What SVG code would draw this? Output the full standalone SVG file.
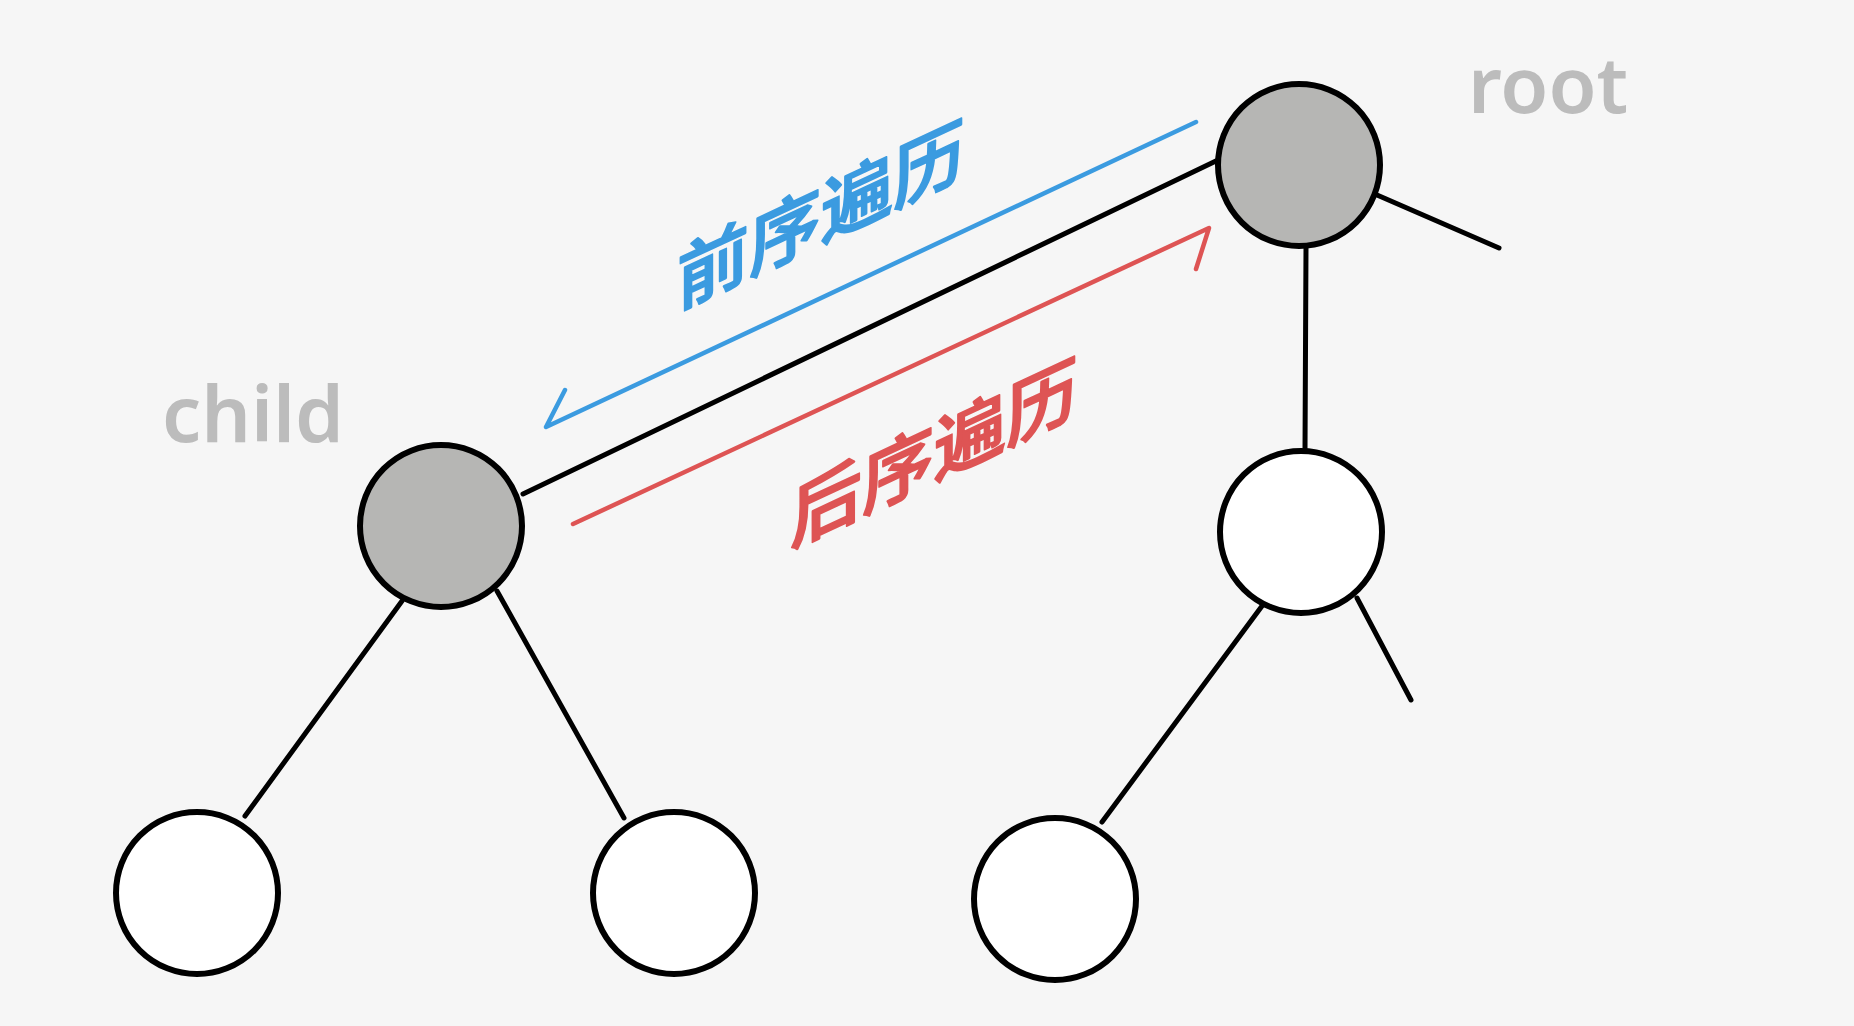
<svg xmlns="http://www.w3.org/2000/svg" width="1854" height="1026" viewBox="0 0 1854 1026">
<style>
.edge{stroke:#000;stroke-width:5;stroke-linecap:round;fill:none}
.node{stroke:#000;stroke-width:6}
.gray{fill:#b6b6b4}
.white{fill:#ffffff}
.lbl{font-family:"Noto Sans","Open Sans","DejaVu Sans",sans-serif;font-weight:600;font-size:78px;fill:#bcbcbc}
.cjk{font-family:"Noto Sans CJK SC","Noto Sans",sans-serif;font-size:72px;font-weight:500;stroke-width:2;stroke-linejoin:round}
.arr{fill:none;stroke-width:4.5;stroke-linecap:round;stroke-linejoin:round}
</style>
<rect width="1854" height="1026" fill="#f6f6f6"/>
<g id="connectors">
<line class="edge" x1="1218" y1="160" x2="523" y2="494"/>
<line class="edge" x1="1377" y1="195" x2="1499" y2="248"/>
<line class="edge" x1="1306" y1="248" x2="1305" y2="449"/>
<line class="edge" x1="402" y1="601" x2="245" y2="816"/>
<line class="edge" x1="497" y1="591" x2="624" y2="818"/>
<line class="edge" x1="1262" y1="606" x2="1102" y2="822"/>
<line class="edge" x1="1357" y1="598" x2="1411" y2="700"/>
</g>
<g id="preorder-arrow">
<polyline class="arr" stroke="#3b9be0" points="1196,122 546,427 565,390"/>
<text class="cjk" fill="#3b9be0" stroke="#3b9be0" x="0" y="0" text-anchor="middle" dominant-baseline="central" transform="translate(821 210) skewY(-25)">前序遍历</text>
</g>
<g id="postorder-arrow">
<polyline class="arr" stroke="#de5454" points="573,524 1209,228 1196,269"/>
<text class="cjk" fill="#de5454" stroke="#de5454" x="0" y="0" text-anchor="middle" dominant-baseline="central" transform="translate(934 448) skewY(-25)">后序遍历</text>
</g>
<g id="root">
<circle class="node gray" cx="1299" cy="165" r="81"/>
<text class="lbl" x="1468" y="113">root</text>
</g>
<g id="child">
<circle class="node gray" cx="441" cy="526" r="81"/>
<text class="lbl" x="162" y="442">child</text>
</g>
<g id="root-right">
<circle class="node white" cx="1301" cy="532" r="81"/>
</g>
<g id="child-left">
<circle class="node white" cx="197" cy="893" r="81"/>
</g>
<g id="child-right">
<circle class="node white" cx="674" cy="893" r="81"/>
</g>
<g id="root-right-left">
<circle class="node white" cx="1055" cy="899" r="81"/>
</g>
</svg>
